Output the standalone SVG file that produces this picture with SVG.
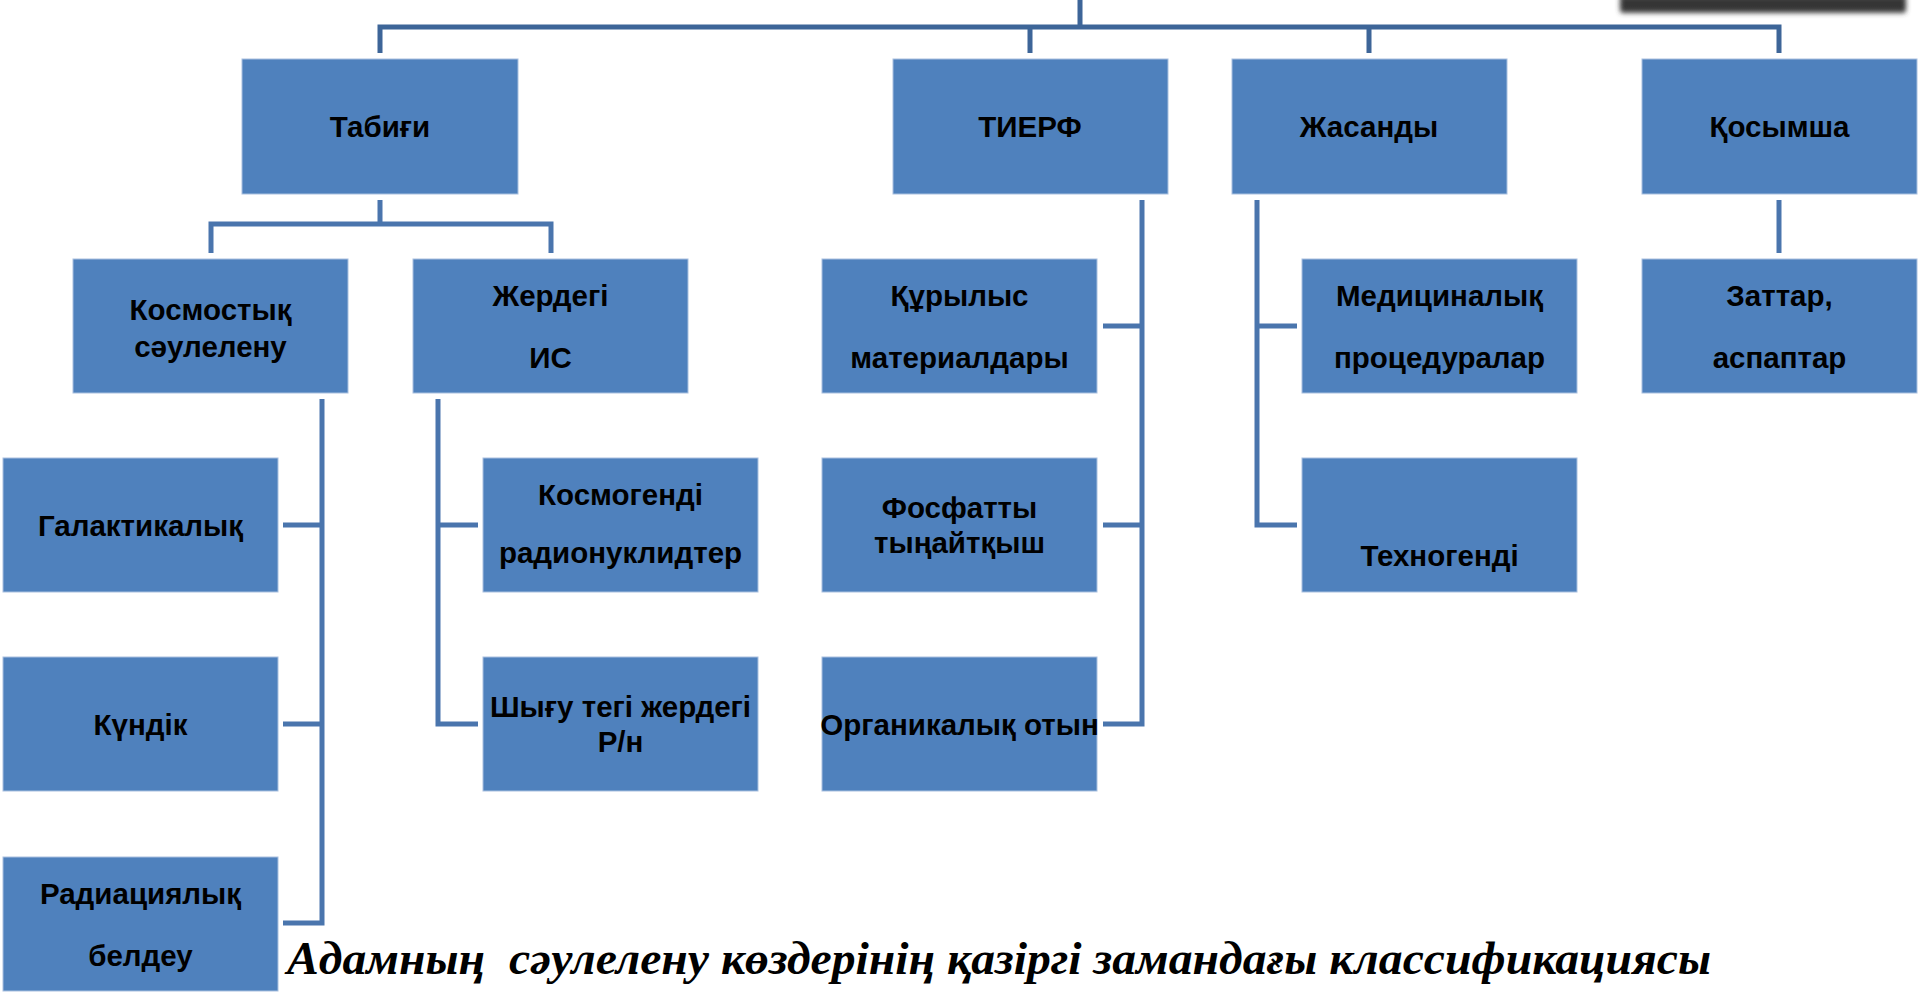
<svg xmlns="http://www.w3.org/2000/svg" width="1920" height="995" viewBox="0 0 1920 995">
<defs>
<filter id="blur" x="-10%" y="-100%" width="120%" height="300%"><feGaussianBlur stdDeviation="2.5"/></filter>
<linearGradient id="barg" x1="0" y1="0" x2="0" y2="1"><stop offset="0" stop-color="#6a6a6a"/><stop offset="0.6" stop-color="#2e2e2e"/><stop offset="1" stop-color="#444"/></linearGradient>
</defs>
<style>
.box{fill:#4f81bd;stroke:#a9c0df;stroke-width:1}
.t{font-family:"Liberation Sans",Arial,sans-serif;font-weight:bold;font-size:29.5px;fill:#000;text-anchor:middle}
.c1{fill:none;stroke:#3d6598;stroke-width:5}
.c2{fill:none;stroke:#4a75ad;stroke-width:5}
.cap{font-family:"Liberation Serif","Times New Roman",serif;font-weight:bold;font-style:italic;font-size:47px;fill:#000}
</style>
<rect width="1920" height="995" fill="#fff"/>
<rect x="1620" y="-12" width="286" height="25" rx="3" fill="url(#barg)" filter="url(#blur)"/>
<g id="connectors">
<path class="c1" d="M1080 0V27M380 53V27H1779V53M1030 27V53M1369 27V53"/>
<path class="c2" d="M380 200V224M211 253V224H551V253"/>
<path class="c2" d="M322 399V923H283M283 525H322M283 724H322"/>
<path class="c2" d="M438 399V724H478M438 525H478"/>
<path class="c2" d="M1142 200V724H1103M1103 326H1142M1103 525H1142"/>
<path class="c2" d="M1257 200V525H1297M1257 326H1297"/>
<path class="c2" d="M1779 200V253"/>
</g>
<g id="n-tabigi"><rect class="box" x="242" y="59" width="276" height="135"/><text class="t" x="380" y="137">Табиғи</text></g>
<g id="n-tierf"><rect class="box" x="893" y="59" width="275" height="135"/><text class="t" x="1030" y="137">ТИЕРФ</text></g>
<g id="n-zhasandy"><rect class="box" x="1232" y="59" width="275" height="135"/><text class="t" x="1369" y="137">Жасанды</text></g>
<g id="n-kosymsha"><rect class="box" x="1642" y="59" width="275" height="135"/><text class="t" x="1779.5" y="137">Қосымша</text></g>
<g id="n-kosmos"><rect class="box" x="73" y="259" width="275" height="134"/><text class="t" x="210.5" y="320">Космостық</text><text class="t" x="210.5" y="357">сәулелену</text></g>
<g id="n-zherdegi"><rect class="box" x="413" y="259" width="275" height="134"/><text class="t" x="550.5" y="306">Жердегі</text><text class="t" x="550.5" y="368">ИС</text></g>
<g id="n-kurylys"><rect class="box" x="822" y="259" width="275" height="134"/><text class="t" x="959.5" y="306">Құрылыс</text><text class="t" x="959.5" y="368">материалдары</text></g>
<g id="n-medic"><rect class="box" x="1302" y="259" width="275" height="134"/><text class="t" x="1439.5" y="306">Медициналық</text><text class="t" x="1439.5" y="368">процедуралар</text></g>
<g id="n-zattar"><rect class="box" x="1642" y="259" width="275" height="134"/><text class="t" x="1779.5" y="306">Заттар,</text><text class="t" x="1779.5" y="368">аспаптар</text></g>
<g id="n-galakt"><rect class="box" x="3" y="458" width="275" height="134"/><text class="t" x="140.5" y="536">Галактикалық</text></g>
<g id="n-kosmogen"><rect class="box" x="483" y="458" width="275" height="134"/><text class="t" x="620.5" y="505">Космогенді</text><text class="t" x="620.5" y="563">радионуклидтер</text></g>
<g id="n-fosfat"><rect class="box" x="822" y="458" width="275" height="134"/><text class="t" x="959.5" y="518">Фосфатты</text><text class="t" x="959.5" y="553">тыңайтқыш</text></g>
<g id="n-tehnogen"><rect class="box" x="1302" y="458" width="275" height="134"/><text class="t" x="1439.5" y="566">Техногенді</text></g>
<g id="n-kundik"><rect class="box" x="3" y="657" width="275" height="134"/><text class="t" x="140.5" y="735">Күндік</text></g>
<g id="n-shygu"><rect class="box" x="483" y="657" width="275" height="134"/><text class="t" x="620.5" y="717">Шығу тегі жердегі</text><text class="t" x="620.5" y="752">Р/н</text></g>
<g id="n-organ"><rect class="box" x="822" y="657" width="275" height="134"/><text class="t" x="959.5" y="735">Органикалық отын</text></g>
<g id="n-radiac"><rect class="box" x="3" y="857" width="275" height="134"/><text class="t" x="140.5" y="904">Радиациялық</text><text class="t" x="140.5" y="966">белдеу</text></g>
<text class="cap" x="287" y="974" xml:space="preserve" textLength="1424" lengthAdjust="spacingAndGlyphs">Адамның  сәулелену көздерінің қазіргі замандағы классификациясы</text>
</svg>
